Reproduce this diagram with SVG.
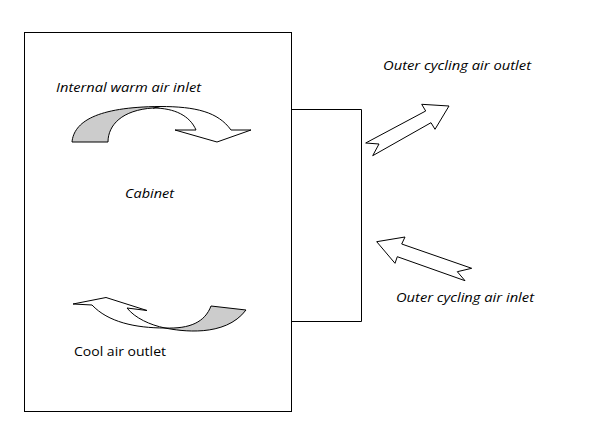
<svg xmlns="http://www.w3.org/2000/svg" width="589" height="425" viewBox="0 0 589 425">
<style>
.s{stroke:#000;stroke-width:1;fill:none;stroke-linejoin:miter}
.w{fill:#fff}
.g{fill:#ccc}
text{font-family:"Open Sans","Noto Sans","Liberation Sans",sans-serif;font-size:13px;fill:#000}
.i{font-style:italic}
</style>
<rect width="589" height="425" fill="#fff"/>
<g id="cabinet">
<rect class="s" x="24.5" y="32.5" width="267" height="379"/>
<text class="i" x="125" y="198" textLength="49" lengthAdjust="spacingAndGlyphs">Cabinet</text>
</g>
<g id="side-unit">
<path class="s" d="M291.500 109.500H361.500V321.500H291.500"/>
</g>
<g id="warm-inlet">
<text class="i" x="56" y="92" textLength="145" lengthAdjust="spacingAndGlyphs">Internal warm air inlet</text>
<path class="s w" d="M153 108C175 108 190 116 196 130H175L217 142L251 130H231C218 112 196 106.500 160 106.500Z"/>
<path class="s g" d="M72 142C74 122 96 107 160 106.500L153 108C122 110 108 125 108 142Z"/>
</g>
<g id="cool-outlet">
<text x="74" y="356" textLength="92" lengthAdjust="spacingAndGlyphs">Cool air outlet</text>
<path class="s w" d="M73 304L106 297.500L147 310.500L127 308C135 318 150 325 165 328C135 328 108 322 92 305Z"/>
<path class="s g" d="M165 328C190 329 205 322 211 306L246 310C225 338 180 331 165 328Z"/>
</g>
<g id="outer-outlet">
<text class="i" x="383" y="70" textLength="148" lengthAdjust="spacingAndGlyphs">Outer cycling air outlet</text>
</g>
<g id="outer-inlet">
<text class="i" x="396" y="302" textLength="138" lengthAdjust="spacingAndGlyphs">Outer cycling air inlet</text>
</g>
<g id="connectors">
<path class="s w" d="M365.700 143L379 144L372.700 155.700L431 122.700L435 129.300L449 106L421.700 104.300L425.700 111Z"/>
<path class="s w" d="M376.700 241.700L405 237L401.700 244L471.700 268.300L457.300 271.700L465 280.700L397.300 256.700L395 263.300Z"/>
</g>
</svg>
